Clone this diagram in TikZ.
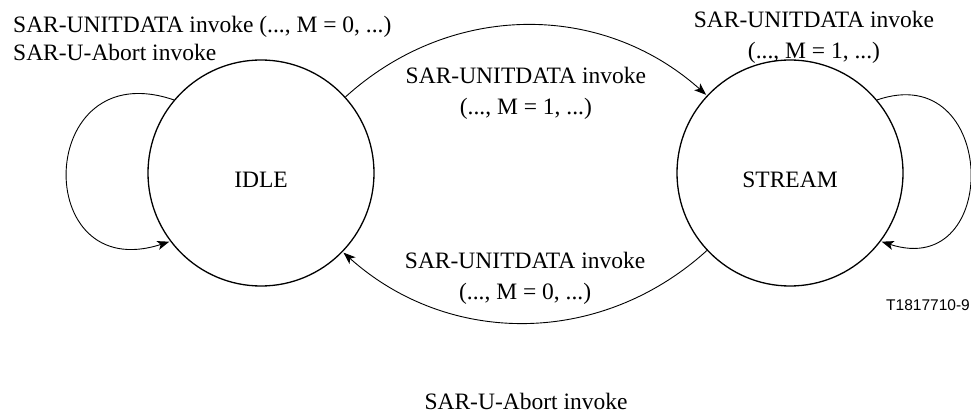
\documentclass[tikz,border=0pt]{standalone}
\usepackage{fontspec}
\setmainfont{Liberation Serif}
\newfontfamily\helv{Liberation Sans}
\usepackage{tikz}
\usetikzlibrary{arrows.meta,automata,positioning}

\begin{document}
\begin{tikzpicture}[x=1pt,y=1pt,->,>={Stealth[length=12pt,width=9pt,inset=3pt]},shorten >=1pt,
  every state/.style={draw,line width=1.3pt,minimum size=226pt,inner sep=0pt,text height=29pt,text depth=0pt},
  every node/.style={font=\fontsize{23.5}{31}\selectfont},
  trans/.style={line width=0.9pt},
  lbl/.style={inner sep=0pt,align=center}]
\useasboundingbox (0,0) rectangle (971,-414);

\node[state] (idle) at (261,-173) {IDLE};
\node[state] (stream) at (790,-173) {STREAM};

\path[trans] (idle.42) edge [bend left=42] node[lbl,below=42pt] {SAR-UNITDATA invoke\\(..., M = 1, ...)} (stream.137)
      (stream.223) edge [bend left=42] node[lbl,above=18pt] {SAR-UNITDATA invoke\\(..., M = 0, ...)} (idle.316)
      (idle.140) edge [out=161,in=198,looseness=2.66] (idle.217)
      (stream.40) edge [out=19,in=-18,looseness=2.31] (stream.-37);

\node[lbl,align=left,anchor=north west,font=\fontsize{23.5}{28}\selectfont] (idleloop) at (13,-16) {SAR-UNITDATA invoke (..., M = 0, ...)\\SAR-U-Abort invoke};
\node[lbl,anchor=north] (streamloop) at (814,-11) {SAR-UNITDATA invoke\\(..., M = 1, ...)};
\node[lbl,anchor=base] (abort) at (526,-409.6) {SAR-U-Abort invoke};
\node[inner sep=0pt,anchor=east,font=\helv\fontsize{15.5}{18}\selectfont] (fig) at (970,-305) {T1817710-9};
\end{tikzpicture}
\end{document}
